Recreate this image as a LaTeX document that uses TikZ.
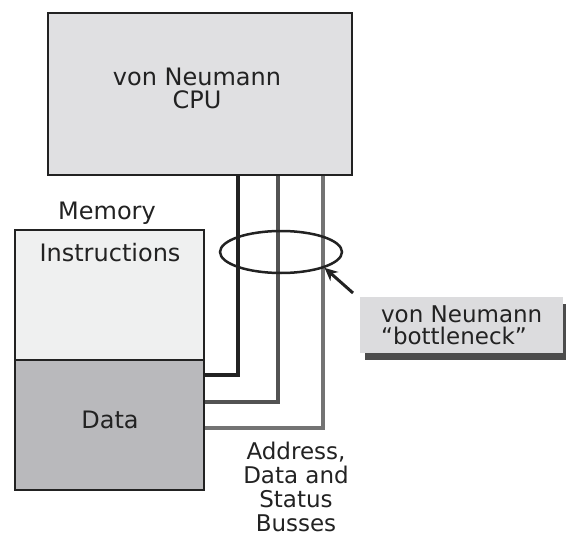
\documentclass[tikz,border=0pt]{standalone}
\usepackage{fontspec}
\newfontfamily\diagfont{DejaVu Sans}
\usetikzlibrary{shapes.geometric,arrows.meta,shadows}
\definecolor{cpufill}{HTML}{E0E0E2}
\definecolor{instrfill}{HTML}{EFF0F0}
\definecolor{datafill}{HTML}{B9B9BC}
\definecolor{neckfill}{HTML}{DCDCDE}
\definecolor{inkdark}{HTML}{222222}
\tikzset{
  block/.style={draw=inkdark, line width=2.5pt, inner sep=0pt},
  txt/.style={font=\diagfont\fontsize{24}{23}\selectfont, text=inkdark, inner sep=0pt},
  bus/.style={line width=3.5pt},
}
\begin{document}
\begin{tikzpicture}[x=1pt,y=-1pt]
\useasboundingbox (0,0) rectangle (566,538);
% boxes
\node[block, fill=cpufill, minimum width=304pt, minimum height=162pt] (cpu) at (200,94) {};
\node[block, fill=instrfill, minimum width=189pt, minimum height=130pt] (instr) at (109.5,295) {};
\node[block, fill=datafill, minimum width=189pt, minimum height=130pt] (data) at (109.5,425) {};
\node[txt, align=center] (cpulabel) at (197,88) {von Neumann\\CPU};
\node[txt] (memlabel) at (107,213) {Memory};
\node[txt] (instrlabel) at (110,253) {Instructions};
\node[txt] (datalabel) at (110,420) {Data};
% busses
\coordinate (bend1) at (238,375);
\coordinate (bend2) at (278,402);
\coordinate (bend3) at (323,428);
\draw[bus, draw=inkdark] (cpu.south -| bend1) |- (data.east |- bend1);
\draw[bus, draw=gray!65!black] (cpu.south -| bend2) |- (data.east |- bend2);
\draw[bus, draw=gray!90!black] (cpu.south -| bend3) |- (data.east |- bend3);
\node[txt, align=center, font=\diagfont\fontsize{23}{24}\selectfont] (buslabel) at (296,487) {Address,\\Data and\\Status\\Busses};
% bottleneck
\node[draw=inkdark, ellipse, line width=2.5pt, minimum width=122pt, minimum height=42pt, inner sep=0pt] (neck) at (281,252) {};
\node[txt, fill=neckfill, align=left, minimum width=203pt, minimum height=56pt, anchor=north west,
  drop shadow={shadow xshift=5pt, shadow yshift=-7pt, fill=gray!60!black, opacity=1},
  font=\diagfont\fontsize{23}{22}\selectfont] (neckbox) at (360,297) {von Neumann\\“bottleneck”};
\draw[line width=3pt, draw=inkdark, -{Stealth[length=13pt,width=12pt]}] ([xshift=-7pt,yshift=4pt]neckbox.north west) -- (neck.-20);
\end{tikzpicture}
\end{document}
